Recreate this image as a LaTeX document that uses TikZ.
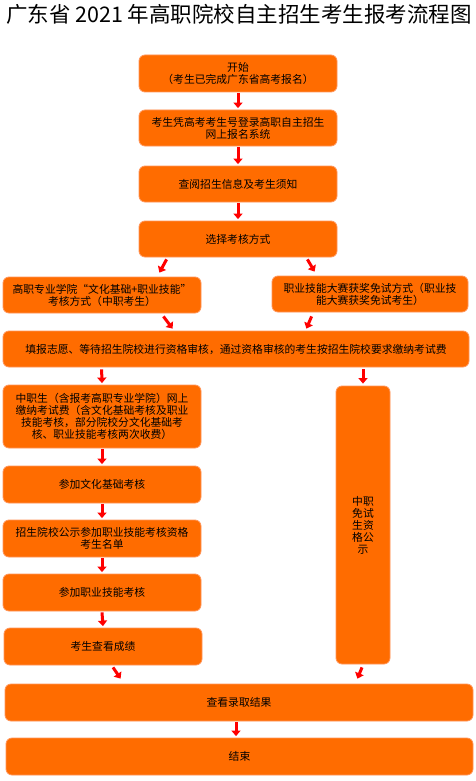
\documentclass[tikz,border=0pt]{standalone}
\usepackage{fontspec}
\setmainfont{Noto Sans CJK SC}
\usetikzlibrary{arrows.meta,calc}
\definecolor{boxfill}{RGB}{255,108,0}
\definecolor{boxline}{RGB}{255,150,90}
\definecolor{arrred}{RGB}{255,0,0}
\tikzset{
  box/.style={draw=boxline, line width=0.8pt, fill=boxfill, rounded corners=6pt,
    align=center, inner sep=2pt, font=\fontsize{10.8pt}{12pt}\selectfont, text=black},
  arr/.style={draw=arrred, line width=3pt, -{Triangle[width=9pt,length=5.5pt]}},
}
\begin{document}
\begin{tikzpicture}[x=1pt,y=-1pt]
\useasboundingbox[fill=white] (0,0) rectangle (476,781);
\node[font=\fontsize{21.5pt}{24pt}\selectfont] (title) at (239,14) {广东省 2021 年高职院校自主招生考生报考流程图};
\node[box, minimum width=198pt, minimum height=37pt] (start) at (238,73.5) {开始\\（考生已完成广东省高考报名）};
\node[box, minimum width=198pt, minimum height=36pt] (b2) at (238,128) {考生凭高考考生号登录高职自主招生\\网上报名系统};
\node[box, minimum width=198pt, minimum height=36pt] (b3) at (238,184) {查阅招生信息及考生须知};
\node[box, minimum width=198pt, minimum height=36pt] (b4) at (238,239) {选择考核方式};
\node[box, minimum width=198pt, minimum height=36pt] (A) at (102,295) {高职专业学院“文化基础+职业技能”\\考核方式（中职考生）};
\node[box, minimum width=196pt, minimum height=36pt] (B) at (370,294) {职业技能大赛获奖免试方式（职业技\\能大赛获奖免试考生）};
\node[box, minimum width=466pt, minimum height=36pt] (C) at (236,349) {填报志愿、等待招生院校进行资格审核，通过资格审核的考生按招生院校要求缴纳考试费};
\node[box, minimum width=198pt, minimum height=63pt] (D) at (102,416.5) {中职生（含报考高职专业学院）网上\\缴纳考试费（含文化基础考核及职业\\技能考核，部分院校分文化基础考\\核、职业技能考核两次收费）};
\node[box, minimum width=54pt, minimum height=278pt] (E) at (363,525) {中职\\免试\\生资\\格公\\示};
\node[box, minimum width=198pt, minimum height=37pt] (F) at (102,484.5) {参加文化基础考核};
\node[box, minimum width=198pt, minimum height=37pt] (G) at (102,538.5) {招生院校公示参加职业技能考核资格\\考生名单};
\node[box, minimum width=198pt, minimum height=37pt] (H) at (102,592.5) {参加职业技能考核};
\node[box, minimum width=198pt, minimum height=37pt] (I) at (103,646.5) {考生查看成绩};
\node[box, minimum width=468pt, minimum height=37pt] (J) at (239,702.5) {查看录取结果};
\node[box, minimum width=467pt, minimum height=37pt] (K) at (239.5,756.5) {结束};
% arrows
\draw[arr] ($(start.south)+(0,1)$) -- ($(b2.north)+(0,-1.5)$);
\draw[arr] ($(b2.south)+(0,1)$) -- ($(b3.north)+(0,-1.5)$);
\draw[arr] ($(b3.south)+(0,1)$) -- ($(b4.north)+(0,-1.5)$);
\draw[arr] ($(b4.south west)+(28,2)$) -- ($(A.north east)+(-42,-4)$);
\draw[arr] ($(b4.south east)+(-30,2)$) -- ($(B.north west)+(43,-4)$);
\draw[arr] ($(A.south east)+(-38,3)$) -- ($(C.north west)+(170,-2)$);
\draw[arr] ($(B.south west)+(40,4)$) -- ($(C.north east)+(-163,-2)$);
\draw[arr] ($(C.south west)+(99,2)$) -- ($(D.north)+(0,-1.5)$);
\draw[arr] ($(C.south -| E.north)+(0,2)$) -- ($(E.north)+(0,-2)$);
\draw[arr] ($(D.south)+(0,1)$) -- ($(F.north)+(0,-1.5)$);
\draw[arr] ($(F.south)+(0,1)$) -- ($(G.north)+(0,-1.5)$);
\draw[arr] ($(G.south)+(0,1)$) -- ($(H.north)+(0,-1.5)$);
\draw[arr] ($(H.south)+(0,1)$) -- ($(I.north)+(0,-1.5)$);
\draw[arr] ($(I.south)+(10,2)$) -- ($(J.north west)+(116,-5)$);
\draw[arr] ($(E.south)+(-1,3)$) -- ($(J.north east)+(-116,-5)$);
\draw[arr] ($(J.south)+(-3,1)$) -- ($(K.north)+(-3.5,-1.5)$);
\end{tikzpicture}
\end{document}
